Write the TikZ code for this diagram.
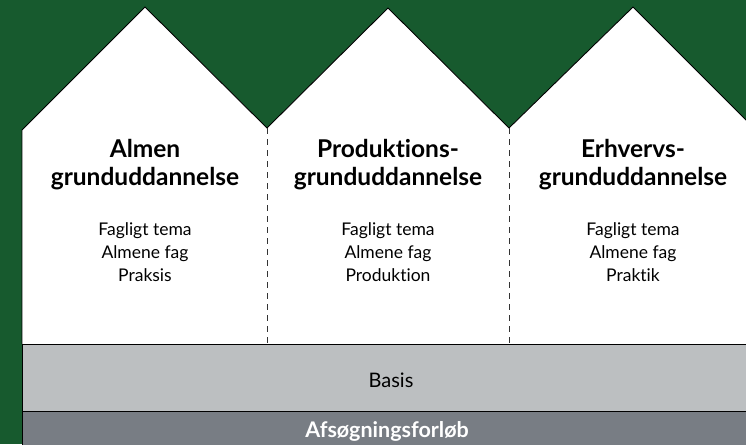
\documentclass[tikz,border=0pt]{standalone}
\usepackage{fontspec}
\setmainfont{Lato}[Ligatures={NoCommon}]
\definecolor{bggreen}{HTML}{175A2E}
\definecolor{basisgray}{HTML}{BCBFC1}
\definecolor{afsgray}{HTML}{787D84}
\begin{document}
\begin{tikzpicture}[x=1pt,y=-1pt,
  outline/.style={draw=black,line width=0.9pt},
  divider/.style={draw=black!80,line width=0.9pt,dash pattern=on 6pt off 5pt},
  heading/.style={anchor=base,font=\fontsize{24.5}{28}\selectfont\bfseries,text=black,inner sep=0pt},
  bodytext/.style={anchor=base,font=\fontsize{17.5}{20}\selectfont,text=black,inner sep=0pt},
  bandtext/.style={anchor=base,font=\fontsize{20}{24}\selectfont,inner sep=0pt}]
\useasboundingbox (0,0) rectangle (746,444);
\clip (0,0) rectangle (746,444);
\fill[bggreen] (0,0) rectangle (746,444);
% coordinates
\coordinate (eaveL) at (22,130);
\coordinate (peak1) at (145,7);
\coordinate (val1) at (267,128);
\coordinate (peak2) at (388,8);
\coordinate (val2) at (509,128);
\coordinate (peak3) at (633,7);
\coordinate (eaveR) at (760,134);
\coordinate (base1) at (267,344);
\coordinate (base2) at (509,344);
% houses
\fill[white] (22,344) -- (eaveL) -- (peak1) -- (val1) -- (peak2) -- (val2) -- (peak3) -- (eaveR) -- (760,344) -- cycle;
\draw[outline] (22,344) -- (eaveL) -- (peak1) -- (val1) -- (peak2) -- (val2) -- (peak3) -- (eaveR);
\draw[divider] (val1) -- (base1);
\draw[divider] (val2) -- (base2);
% bands
\fill[basisgray] (22,344) rectangle (760,411);
\fill[afsgray] (22,411) rectangle (760,450);
\draw[outline] (22,344) -- (760,344);
\draw[outline] (22,411) -- (760,411);
\draw[outline] (22,344) -- (22,450);
% texts
\node[heading] (h1a) at (145,157) {Almen};
\node[heading] (h1b) at (145,185) {grunduddannelse};
\node[heading] (h2a) at (388,157) {Produktions-};
\node[heading] (h2b) at (388,185) {grunduddannelse};
\node[heading] (h3a) at (633,157) {Erhvervs-};
\node[heading] (h3b) at (633,185) {grunduddannelse};
\node[bodytext] (b1a) at (145,235) {Fagligt tema};
\node[bodytext] (b1b) at (145,258) {Almene fag};
\node[bodytext] (b1c) at (145,281) {Praksis};
\node[bodytext] (b2a) at (388,235) {Fagligt tema};
\node[bodytext] (b2b) at (388,258) {Almene fag};
\node[bodytext] (b2c) at (388,281) {Produktion};
\node[bodytext] (b3a) at (633,235) {Fagligt tema};
\node[bodytext] (b3b) at (633,258) {Almene fag};
\node[bodytext] (b3c) at (633,281) {Praktik};
\node[bandtext,text=black] (basis) at (391,387) {Basis};
\node[bandtext,text=white,font=\fontsize{21.5}{24}\selectfont\bfseries] (afs) at (387,437) {Afsøgningsforløb};
\end{tikzpicture}
\end{document}
